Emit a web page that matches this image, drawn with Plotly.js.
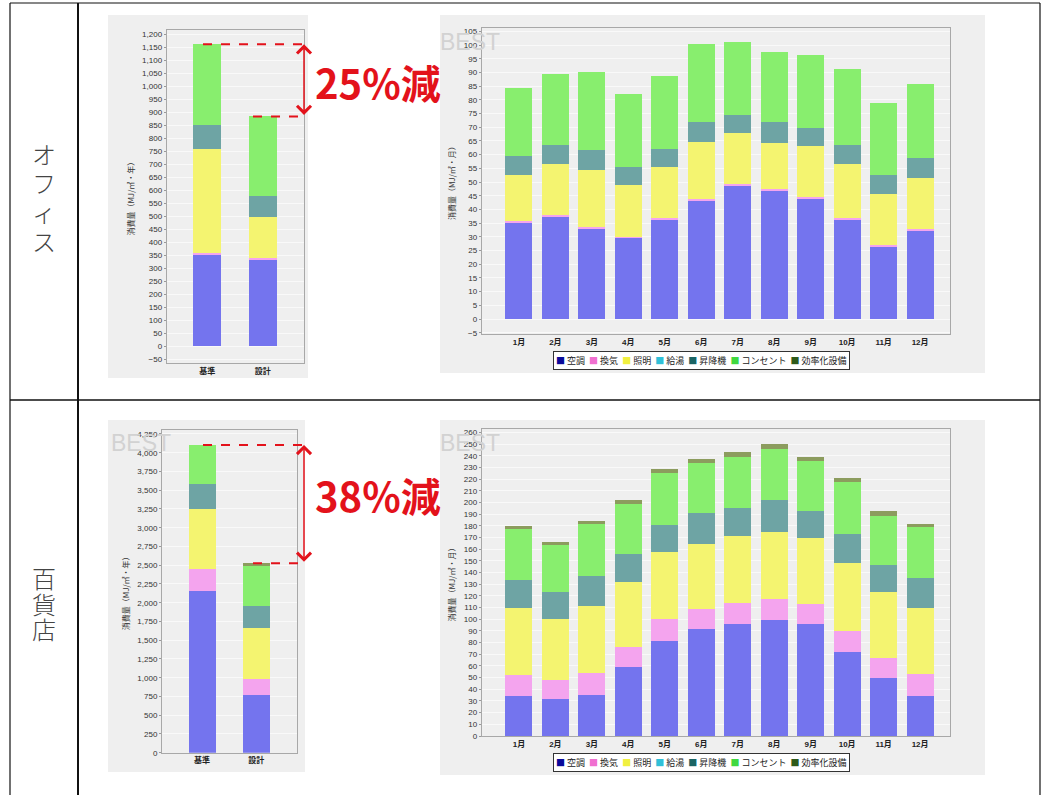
<!DOCTYPE html>
<html><head><meta charset="utf-8">
<script src="https://cdn.plot.ly/plotly-3.0.1.min.js"></script>
<style>html,body{margin:0;padding:0;background:#fff}#chart{width:1047px;height:795px}</style>
</head><body><div id="chart"></div>
<script>
// ---------- data ----------
const annualCategories = ['基準', '設計'];
const months = ['1月','2月','3月','4月','5月','6月','7月','8月','9月','10月','11月','12月'];
const seriesNames = ['空調','換気','照明','給湯','昇降機','コンセント','効率化設備'];
const rowLabels = ['オフィス', '百貨店'];
const reductionLabels = ['25%減', '38%減'];

// オフィス 年間 (MJ/㎡・年)  [基準, 設計]
const officeAnnualHVAC      = [352, 332];
const officeAnnualVent      = [6, 6];
const officeAnnualLight     = [402, 158];
const officeAnnualHotWater  = [0, 0];
const officeAnnualElevator  = [93, 84];
const officeAnnualOutlet    = [310, 305];
const officeAnnualEfficient = [0, 0];

// オフィス 月別 (MJ/㎡・月)
const officeMonthlyHVAC      = [35.2, 37.3, 33.0, 29.5, 36.1, 43.2, 48.7, 46.8, 43.8, 36.2, 26.4, 32.2];
const officeMonthlyVent      = [0.6, 0.6, 0.6, 0.6, 0.6, 0.6, 0.6, 0.6, 0.6, 0.6, 0.6, 0.6];
const officeMonthlyLight     = [16.8, 18.7, 20.8, 18.7, 18.7, 20.7, 18.5, 16.8, 18.6, 19.8, 18.7, 18.8];
const officeMonthlyHotWater  = [0, 0, 0, 0, 0, 0, 0, 0, 0, 0, 0, 0];
const officeMonthlyElevator  = [6.8, 6.9, 7.3, 6.7, 6.6, 7.3, 6.7, 7.8, 6.8, 6.9, 6.9, 7.3];
const officeMonthlyOutlet    = [24.8, 25.8, 28.6, 26.5, 26.7, 28.5, 26.7, 25.4, 26.4, 27.6, 26.3, 27.0];
const officeMonthlyEfficient = [0, 0, 0, 0, 0, 0, 0, 0, 0, 0, 0, 0];

// 百貨店 年間
const deptAnnualHVAC      = [2160, 769];
const deptAnnualVent      = [285, 214];
const deptAnnualLight     = [800, 684];
const deptAnnualHotWater  = [0, 0];
const deptAnnualElevator  = [338, 293];
const deptAnnualOutlet    = [520, 529];
const deptAnnualEfficient = [0, 36];

// 百貨店 月別
const deptMonthlyHVAC      = [34.3, 31.7, 35.1, 58.9, 81.7, 91.4, 95.7, 99.4, 95.7, 72.2, 49.4, 34.5];
const deptMonthlyVent      = [18.0, 16.3, 18.6, 17.6, 18.3, 17.4, 18.0, 18.0, 17.4, 18.0, 17.2, 18.4];
const deptMonthlyLight     = [57.7, 52.0, 57.7, 55.7, 57.4, 56.0, 57.4, 57.4, 56.3, 57.8, 56.5, 57.1];
const deptMonthlyHotWater  = [0, 0, 0, 0, 0, 0, 0, 0, 0, 0, 0, 0];
const deptMonthlyElevator  = [23.7, 23.7, 26.0, 23.8, 23.4, 26.0, 24.0, 27.2, 23.4, 24.8, 23.4, 25.6];
const deptMonthlyOutlet    = [44.0, 40.2, 44.0, 42.8, 44.3, 42.9, 44.3, 44.2, 42.6, 44.6, 42.3, 43.8];
const deptMonthlyEfficient = [2.3, 2.1, 2.8, 3.4, 3.7, 3.9, 3.7, 4.3, 3.7, 4.0, 4.0, 2.5];

// ---------- styles ----------
const barColors    = ['#7474ee', '#f4a4ee', '#f4f470', '#86dcea', '#6ea4a4', '#88ee6e', '#8c9c5e'];
const legendColors = ['#0a0a9a', '#f070d0', '#f0f040', '#30c0d8', '#1a6464', '#40d840', '#2e5a1a'];

const W = 1047, H = 795;
const px = v => v / W;
const py = v => 1 - v / H;

const officeAnnual = [officeAnnualHVAC, officeAnnualVent, officeAnnualLight, officeAnnualHotWater, officeAnnualElevator, officeAnnualOutlet, officeAnnualEfficient];
const officeMonthly = [officeMonthlyHVAC, officeMonthlyVent, officeMonthlyLight, officeMonthlyHotWater, officeMonthlyElevator, officeMonthlyOutlet, officeMonthlyEfficient];
const deptAnnual = [deptAnnualHVAC, deptAnnualVent, deptAnnualLight, deptAnnualHotWater, deptAnnualElevator, deptAnnualOutlet, deptAnnualEfficient];
const deptMonthly = [deptMonthlyHVAC, deptMonthlyVent, deptMonthlyLight, deptMonthlyHotWater, deptMonthlyElevator, deptMonthlyOutlet, deptMonthlyEfficient];

function stackTraces(xa, ya, cats, arrays, width) {
  return seriesNames.map((n, i) => ({
    type: 'bar', x: cats, y: arrays[i], name: n, xaxis: xa, yaxis: ya,
    width: width, marker: {color: barColors[i], line: {width: 0}}, showlegend: false,
    hovertemplate: n + ': %{y}<extra></extra>'
  }));
}

const traces = [].concat(
  stackTraces('x', 'y', annualCategories, officeAnnual, 0.5),
  stackTraces('x2', 'y2', months, officeMonthly, 0.74),
  stackTraces('x3', 'y3', annualCategories, deptAnnual, 0.5),
  stackTraces('x4', 'y4', months, deptMonthly, 0.74)
);

const totals = arrays => arrays[0].map((_, j) => arrays.reduce((s, a) => s + a[j], 0));
const officeTotals = totals(officeAnnual);
const deptTotals = totals(deptAnnual);

const tickFont = {family: 'Liberation Sans, Arial, sans-serif', size: 8, color: '#333'};
const catFont = {family: 'Liberation Sans, Noto Sans CJK JP, sans-serif', size: 8, color: '#222', weight: 'bold'};
const titleFont = {family: 'Noto Sans CJK JP, sans-serif', size: 8, color: '#333'};

function xAx(domain, range) {
  return {domain, range, showgrid: false, showline: true, mirror: true,
    linecolor: '#a8a8a8', linewidth: 1, ticks: '', ticklen: 0,
    tickfont: catFont, fixedrange: true, zeroline: false};
}
function yAx(domain, range, dtick, title) {
  return {domain, range, dtick, tick0: 0, tickformat: ',d', showgrid: true, gridcolor: '#f9f9f9', gridwidth: 1,
    showline: true, mirror: true, linecolor: '#a8a8a8', linewidth: 1, ticks: 'outside', ticklen: 2,
    tickcolor: '#999', tickfont: tickFont, zeroline: false, fixedrange: true,
    title: {text: title, font: titleFont, standoff: 6}};
}

const ax1 = xAx([px(166.7), px(304)], [-0.73, 1.74]); ax1.anchor = 'y';
const ax2 = xAx([px(481.7), px(950)], [-1.02, 11.82]); ax2.anchor = 'y2';
const ax3 = xAx([px(162), px(297.3)], [-0.74, 1.76]); ax3.anchor = 'y3';
const ax4 = xAx([px(481.7), px(950)], [-1.02, 11.82]); ax4.anchor = 'y4';
const ay1 = yAx([py(363.3), py(30)], [-66, 1218], 50, '消費量（MJ/㎡・年）'); ay1.anchor = 'x';
const ay2 = yAx([py(334), py(28.3)], [-5.47, 106.1], 5, '消費量（MJ/㎡・月）'); ay2.anchor = 'x2';
const ay3 = yAx([py(752.7), py(430)], [0, 4303], 250, '消費量（MJ/㎡・年）'); ay3.anchor = 'x3';
const ay4 = yAx([py(736), py(429)], [0, 263], 10, '消費量（MJ/㎡・月）'); ay4.anchor = 'x4';

const red = '#e3121b';
const shapes = [];
const annotations = [];
// chart panels
[[108, 15, 308, 378], [440, 15, 985, 373], [108, 420, 305, 772], [440, 420, 985, 775]].forEach(r => {
  shapes.push({type: 'rect', xref: 'paper', yref: 'paper', x0: px(r[0]), x1: px(r[2]), y0: py(r[3]), y1: py(r[1]),
    fillcolor: '#efefef', line: {width: 0}, layer: 'below'});
});
// table lines
const tline = (x0, y0, x1, y1, w) => shapes.push({type: 'line', xref: 'paper', yref: 'paper',
  x0: px(x0), x1: px(x1), y0: py(y0), y1: py(y1), line: {color: '#111', width: w}});
tline(10, 3, 1040, 3, 1.2);
tline(10, 400, 1040, 400, 1.5);
tline(10, 3, 10, 795, 1.2);
tline(78, 3, 78, 795, 2);
tline(1040, 3, 1040, 795, 1.2);

// reduction markers
function reduction(yref, tots) {
  const base = tots[0], design = tots[1];
  shapes.push({type: 'line', xref: 'paper', yref, x0: px(203), x1: px(303), y0: base, y1: base,
    line: {color: red, width: 2, dash: 'dash'}});
  shapes.push({type: 'line', xref: 'paper', yref, x0: px(253), x1: px(303), y0: design, y1: design,
    line: {color: red, width: 2, dash: 'dash'}});
  annotations.push({xref: 'paper', yref, x: px(304), y: base, axref: 'pixel', ax: 0, ayref: yref, ay: design,
    text: '', showarrow: true, arrowside: 'end+start', arrowhead: 4, startarrowhead: 4,
    arrowsize: 1.8, startarrowsize: 1.8, arrowwidth: 1.5, arrowcolor: red, standoff: 0, startstandoff: 0});
}
reduction('y', officeTotals);
reduction('y3', deptTotals);

// row labels (vertical)
const rowCenters = [[154, 183, 212, 241], [577, 603, 628]];
rowLabels.forEach((lab, r) => {
  Array.from(lab).forEach((ch, k) => {
    annotations.push({xref: 'paper', yref: 'paper', x: px(44), y: py(rowCenters[r][k]), text: ch, showarrow: false,
      font: {family: 'Noto Sans CJK JP, sans-serif', size: 24, color: '#444', weight: 300}, xanchor: 'center', yanchor: 'middle'});
  });
});
// reduction texts
[py(82), py(495)].forEach((yy, i) => {
  annotations.push({xref: 'paper', yref: 'paper', x: px(378), y: yy, text: reductionLabels[i], showarrow: false,
    font: {family: 'Noto Sans CJK JP, sans-serif', size: 40, color: red, weight: 'bold'}, xanchor: 'center', yanchor: 'middle'});
});
// watermark
[[470, 42], [470, 443], [141, 443]].forEach(p => {
  annotations.push({xref: 'paper', yref: 'paper', x: px(p[0]), y: py(p[1]), text: 'BEST', showarrow: false,
    font: {family: 'Liberation Sans Narrow, Liberation Sans, sans-serif', size: 23, color: '#d2d2d2'}, xanchor: 'center', yanchor: 'middle'});
});
// legends
const legendText = seriesNames.map((n, i) => `<span style="color:${legendColors[i]}">■</span>\u00a0${n}`).join('\u00a0\u00a0');
[360, 762].forEach(yy => {
  annotations.push({xref: 'paper', yref: 'paper', x: px(701.5), y: py(yy), text: legendText, showarrow: false,
    font: {family: 'Noto Sans CJK JP, sans-serif', size: 9, color: '#222'}, xanchor: 'center', yanchor: 'middle',
    bgcolor: '#ffffff', bordercolor: '#333', borderwidth: 1, borderpad: 2});
});

const layout = {
  width: W, height: H, margin: {l: 0, r: 0, t: 0, b: 0},
  paper_bgcolor: '#ffffff', plot_bgcolor: '#ebebeb',
  barmode: 'stack', showlegend: false,
  font: {family: 'Liberation Sans, Noto Sans CJK JP, sans-serif', size: 8, color: '#333'},
  xaxis: ax1, yaxis: ay1, xaxis2: ax2, yaxis2: ay2, xaxis3: ax3, yaxis3: ay3, xaxis4: ax4, yaxis4: ay4,
  shapes, annotations
};

Plotly.newPlot('chart', traces, layout, {displayModeBar: false, staticPlot: true});
</script>
</body></html>
